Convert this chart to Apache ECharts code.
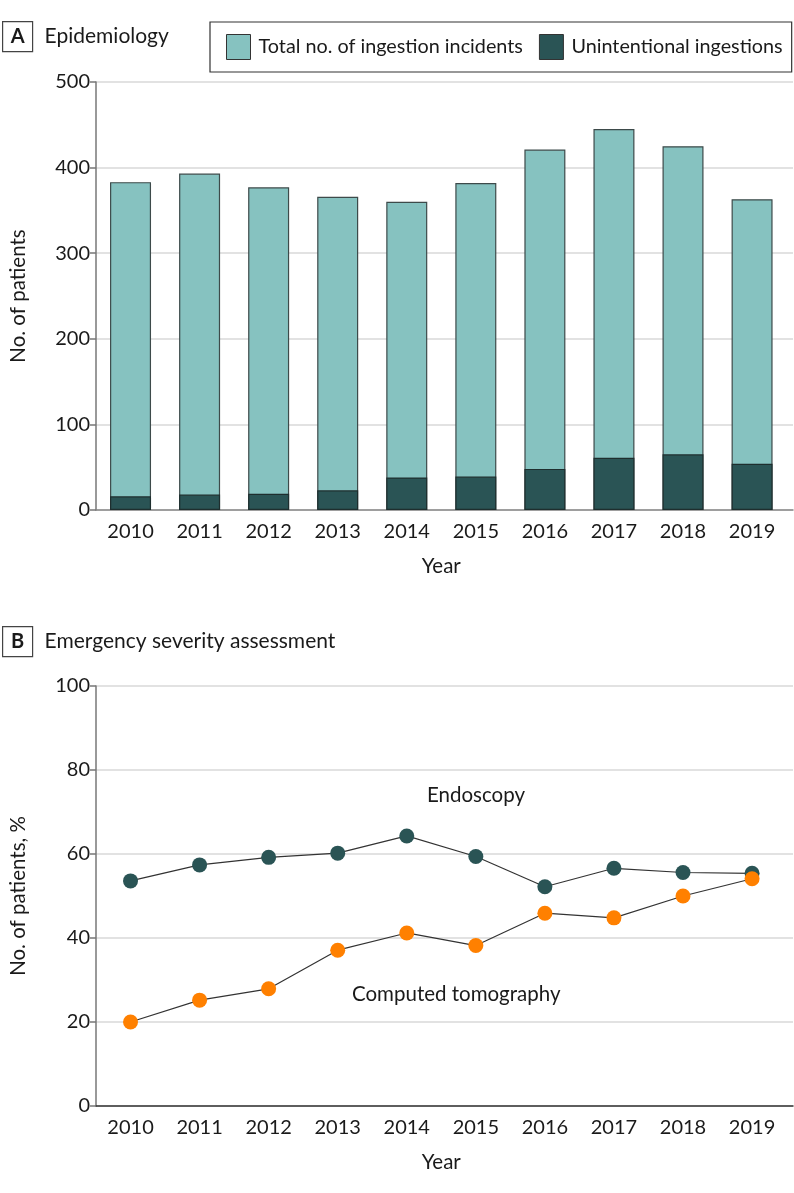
<!DOCTYPE html>
<html><head><meta charset="utf-8">
<script src="https://cdn.jsdelivr.net/npm/echarts@6/dist/echarts.min.js"></script>
<style>html,body{margin:0;padding:0;background:#fff}#c{width:794px;height:1193px}</style>
</head><body><div id="c"></div>
<script>
const years = ['2010','2011','2012','2013','2014','2015','2016','2017','2018','2019'];
const totalIncidents = [383, 393, 377, 366, 360, 382, 421, 445, 425, 363];
const unintentional = [16, 18, 19, 23, 38, 39, 48, 61, 65, 54];
const endoscopy = [53.6, 57.4, 59.2, 60.2, 64.3, 59.4, 52.2, 56.6, 55.6, 55.4];
const computedTomography = [20.0, 25.2, 27.9, 37.1, 41.2, 38.2, 45.9, 44.8, 50.0, 54.1];
const topTicks = [0, 100, 200, 300, 400, 500];
const bottomTicks = [0, 20, 40, 60, 80, 100];

const FONT = 'Lato';
const FS = 20;
const TXT = '#1a1a1a';
const teal = '#86C2C0';
const dark = '#2A5455';
const orange = '#FF8000';

const chart = echarts.init(document.getElementById('c'), null, {renderer: 'canvas'});

function helperY(grid, ticks, name) {
  return {
    gridIndex: grid, type: 'value', min: ticks[0], max: ticks[ticks.length-1],
    interval: ticks[1]-ticks[0],
    axisLine: {show: true, lineStyle: {color: '#777', width: 1.5}},
    axisTick: {show: true, length: 6, lineStyle: {color: '#777', width: 1.5}},
    axisLabel: {fontFamily: FONT, fontSize: FS, color: TXT, margin: 6},
    splitLine: {show: true, lineStyle: {color: '#d9d9d9', width: 1.5}},
    name: name, nameLocation: 'middle', nameGap: 67, nameRotate: 90,
    nameTextStyle: {fontFamily: FONT, fontSize: 20.5, color: TXT}
  };
}
function mainY(grid, ticks) {
  return {gridIndex: grid, type: 'value', min: ticks[0], max: ticks[ticks.length-1],
    interval: ticks[1]-ticks[0], show: false, splitLine: {show: false}};
}
function helperX(grid, color) {
  return {gridIndex: grid, type: 'category', data: years,
    axisLine: {show: true, lineStyle: {color: color, width: 1.5}},
    axisTick: {show: false}, axisLabel: {show: false}, splitLine: {show: false}};
}
function mainX(grid, gap) {
  return {gridIndex: grid, type: 'category', data: years, boundaryGap: true,
    axisLine: {show: false}, axisTick: {show: false},
    axisLabel: {fontFamily: FONT, fontSize: FS, color: TXT, margin: gap},
    name: 'Year', nameLocation: 'middle', nameGap: 46,
    nameTextStyle: {fontFamily: FONT, fontSize: 20.5, color: TXT}};
}
function panelLabel(letter, text, top) {
  return {type: 'group', left: 2, top: top, children: [
    {type: 'rect', shape: {x: 0, y: 0, width: 30, height: 30},
     style: {fill: '#fff', stroke: '#444', lineWidth: 1.2}},
    {type: 'text', x: 15, y: 15, style: {text: letter, font: 'bold 20px Lato', fill: TXT, align: 'center', verticalAlign: 'middle'}},
    {type: 'text', x: 42, y: 15, style: {text: text, font: '21px Lato', fill: TXT, align: 'left', verticalAlign: 'middle'}}
  ]};
}

const option = {
  backgroundColor: '#fff',
  animation: false,
  textStyle: {fontFamily: FONT},
  legend: {
    data: ['Total no. of ingestion incidents', 'Unintentional ingestions'],
    left: 210, top: 22, width: 575, orient: 'horizontal',
    padding: [12, 9, 12, 16], itemGap: 16, itemWidth: 24, itemHeight: 25,
    borderColor: '#333', borderWidth: 1.2,
    icon: 'rect',
    itemStyle: {borderColor: '#333', borderWidth: 1},
    textStyle: {fontFamily: FONT, fontSize: 19.8, color: TXT, padding: [0, 0, 0, 3]},
    selectedMode: false
  },
  grid: [
    {left: 96, width: 690.6, top: 82, height: 428},
    {left: 90, width: 703, top: 82, height: 428},
    {left: 96, width: 690.6, top: 686, height: 420},
    {left: 90, width: 703, top: 686, height: 420}
  ],
  xAxis: [mainX(0, 12), helperX(1, '#888'), mainX(2, 12), helperX(3, '#333')],
  yAxis: [mainY(0, topTicks), helperY(1, topTicks, 'No. of patients'),
          mainY(2, bottomTicks), helperY(3, bottomTicks, 'No. of patients, %')],
  series: [
    {name: 'Total no. of ingestion incidents', type: 'bar', xAxisIndex: 0, yAxisIndex: 0,
     data: totalIncidents, barWidth: 41, barGap: '-100%', z: 3,
     itemStyle: {color: teal, borderColor: '#3d4a4a', borderWidth: 1.2}},
    {name: 'Unintentional ingestions', type: 'bar', xAxisIndex: 0, yAxisIndex: 0,
     data: unintentional, barWidth: 41, barGap: '-100%', z: 4,
     itemStyle: {color: dark, borderColor: '#1e2e2e', borderWidth: 1.2}},
    {name: 'Endoscopy', type: 'line', xAxisIndex: 2, yAxisIndex: 2, data: endoscopy,
     symbol: 'circle', symbolSize: 15, showAllSymbol: true, z: 3,
     lineStyle: {color: '#333', width: 1.2}, itemStyle: {color: dark, borderWidth: 0}},
    {name: 'Computed tomography', type: 'line', xAxisIndex: 2, yAxisIndex: 2, data: computedTomography,
     symbol: 'circle', symbolSize: 15, showAllSymbol: true, z: 4,
     lineStyle: {color: '#333', width: 1.2}, itemStyle: {color: orange, borderWidth: 0}}
  ],
  graphic: [
    panelLabel('A', 'Epidemiology', 21),
    panelLabel('B', 'Emergency severity assessment', 626),
    {type: 'text', left: 427, top: 785, style: {text: 'Endoscopy', font: '20.5px Lato', fill: TXT}},
    {type: 'text', left: 352, top: 984, style: {text: 'Computed tomography', font: '20.5px Lato', fill: TXT}}
  ]
};
chart.setOption(option);
</script></body></html>
